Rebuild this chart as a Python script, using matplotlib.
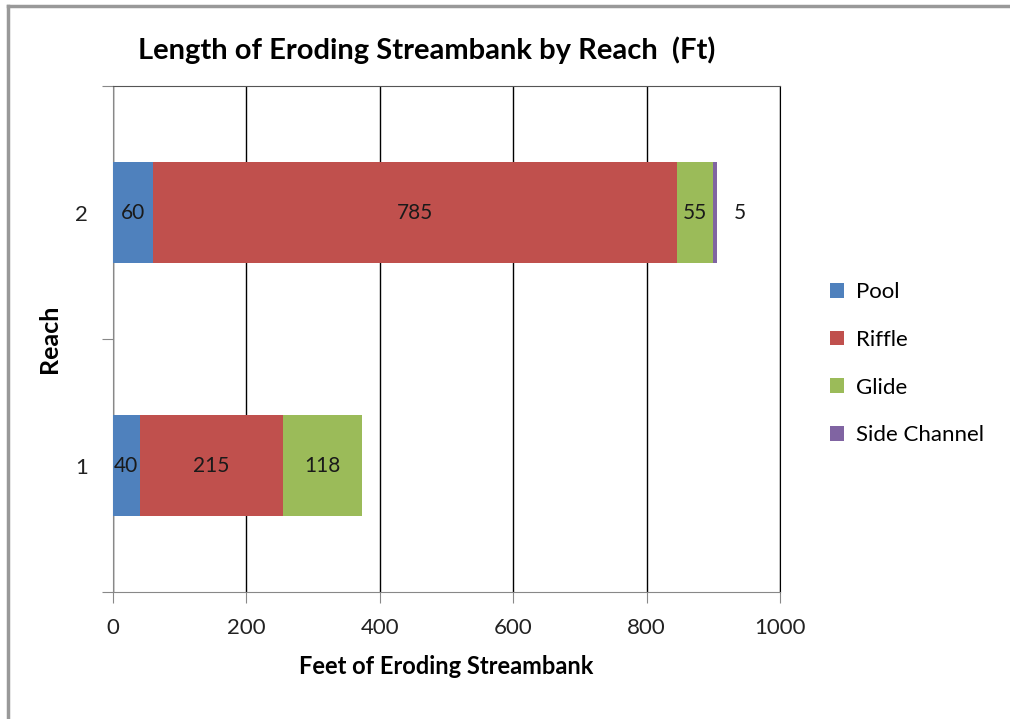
import matplotlib.pyplot as plt
import matplotlib.lines as mlines

plt.rcParams['font.family'] = ['Lato', 'DejaVu Sans']

# data
reaches = [1, 2]
series = ["Pool", "Riffle", "Glide", "Side Channel"]
pool = [40, 60]
riffle = [215, 785]
glide = [118, 55]
side_channel = [0, 5]
colors = ["#4F81BD", "#C0504D", "#9BBB59", "#8064A2"]
xticks = [0, 200, 400, 600, 800, 1000]

fig = plt.figure(figsize=(10.1, 7.19), dpi=100)
ax = fig.add_axes([0.1119, 0.1766, 0.6604, 0.7038])

values = [pool, riffle, glide, side_channel]
left = [0, 0]
for name, vals, col in zip(series, values, colors):
    ax.barh(reaches, vals, left=left, height=0.4, color=col, label=name, zorder=3)
    for r, v, l in zip(reaches, vals, left):
        if v == 0:
            continue
        if v < 20:
            ax.text(l + v + 35, r, str(v), ha='center', va='center', fontsize=15, color='#1a1a1a', zorder=4)
        else:
            ax.text(l + v / 2, r, str(v), ha='center', va='center', fontsize=15, color='#1a1a1a', zorder=4)
    left = [a + b for a, b in zip(left, vals)]

ax.set_xlim(0, 1000)
ax.set_ylim(0.5, 2.5)
ax.set_xticks(xticks)
ax.set_xticklabels([str(t) for t in xticks], fontsize=16, color='#222222')
ax.set_yticks([0.5, 1.5, 2.5])
ax.set_yticklabels([])
ax.set_yticks(reaches, minor=True)
ax.set_yticklabels([str(r) for r in reaches], minor=True, fontsize=16, color='#222222')
ax.tick_params(axis='y', which='minor', length=0, pad=18)
ax.tick_params(axis='y', which='major', length=8, color='#888888')
ax.tick_params(axis='x', length=8, color='#888888', pad=11)

ax.grid(axis='x', color='black', linewidth=1, zorder=0)
for s in ['left', 'bottom']:
    ax.spines[s].set_color('#888888')
ax.spines['top'].set_color('#555555')
ax.spines['right'].set_color('black')

ax.set_xlabel("Feet of Eroding Streambank", fontsize=17, fontweight='bold', labelpad=12)
ax.set_ylabel("Reach", fontsize=18, fontweight='bold', labelpad=10)
fig.text(0.4223, 0.93, "Length of Eroding Streambank by Reach  (Ft)", ha='center', va='center',
         fontsize=21, fontweight='bold')

ax.legend(loc='upper left', bbox_to_anchor=(1.045, 0.652), frameon=False, fontsize=16,
          handlelength=0.65, handleheight=0.65, labelspacing=1.25, handletextpad=0.5,
          borderaxespad=0.5)

# outer frame (left and top edges)
fig.add_artist(mlines.Line2D([0.0075, 0.0075], [0, 0.992], color='#999999', linewidth=2.5, transform=fig.transFigure))
fig.add_artist(mlines.Line2D([0.0075, 1], [0.992, 0.992], color='#999999', linewidth=2.5, transform=fig.transFigure))

fig.savefig("out.png", dpi=100)
